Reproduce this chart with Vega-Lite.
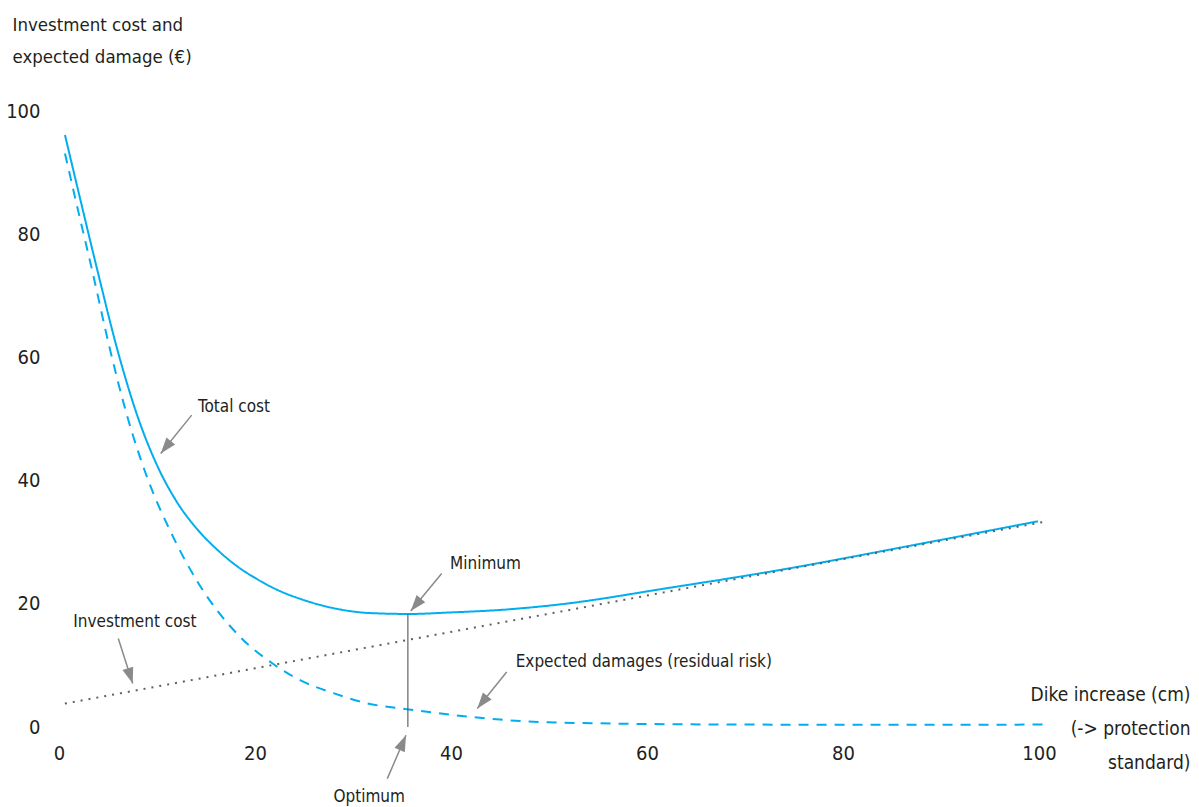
{
  "$schema": "https://vega.github.io/schema/vega-lite/v6.json",
  "width": 980,
  "height": 616,
  "autosize": {"type": "none"},
  "padding": {"left": 59, "top": 111, "right": 160, "bottom": 80},
  "background": "white",
  "config": {
    "view": {"stroke": null},
    "font": "DejaVu Sans Condensed, Roboto, sans-serif",
    "text": {"font": "DejaVu Sans Condensed, Roboto, sans-serif"}
  },
  "datasets": {
    "curves": [
      {"x": 0.61, "y": 96.1, "s": "total"},
      {"x": 2.0, "y": 86.8, "s": "total"},
      {"x": 4.0, "y": 73.6, "s": "total"},
      {"x": 6.0, "y": 61.0, "s": "total"},
      {"x": 8.0, "y": 50.5, "s": "total"},
      {"x": 10.0, "y": 42.5, "s": "total"},
      {"x": 12.0, "y": 36.6, "s": "total"},
      {"x": 14.0, "y": 32.3, "s": "total"},
      {"x": 16.0, "y": 29.0, "s": "total"},
      {"x": 18.0, "y": 26.3, "s": "total"},
      {"x": 20.0, "y": 24.2, "s": "total"},
      {"x": 22.5, "y": 22.1, "s": "total"},
      {"x": 25.0, "y": 20.6, "s": "total"},
      {"x": 28.3, "y": 19.2, "s": "total"},
      {"x": 31.7, "y": 18.5, "s": "total"},
      {"x": 35.8, "y": 18.35, "s": "total"},
      {"x": 40, "y": 18.6, "s": "total"},
      {"x": 45, "y": 19.0, "s": "total"},
      {"x": 51.1, "y": 19.9, "s": "total"},
      {"x": 62.3, "y": 22.6, "s": "total"},
      {"x": 73.6, "y": 25.5, "s": "total"},
      {"x": 87.1, "y": 29.5, "s": "total"},
      {"x": 99.9, "y": 33.4, "s": "total"},
      {"x": 0.61, "y": 93.1, "s": "damage"},
      {"x": 2.0, "y": 83.5, "s": "damage"},
      {"x": 3.4, "y": 74.0, "s": "damage"},
      {"x": 5.1, "y": 62.0, "s": "damage"},
      {"x": 6.9, "y": 50.8, "s": "damage"},
      {"x": 9.0, "y": 40.5, "s": "damage"},
      {"x": 11.3, "y": 32.0, "s": "damage"},
      {"x": 14.05, "y": 23.8, "s": "damage"},
      {"x": 18.5, "y": 14.6, "s": "damage"},
      {"x": 21.8, "y": 10.3, "s": "damage"},
      {"x": 24.6, "y": 7.6, "s": "damage"},
      {"x": 28.0, "y": 5.5, "s": "damage"},
      {"x": 31.4, "y": 3.85, "s": "damage"},
      {"x": 35.5, "y": 2.9, "s": "damage"},
      {"x": 41.6, "y": 1.7, "s": "damage"},
      {"x": 45, "y": 1.2, "s": "damage"},
      {"x": 49.1, "y": 0.8, "s": "damage"},
      {"x": 55, "y": 0.6, "s": "damage"},
      {"x": 62, "y": 0.45, "s": "damage"},
      {"x": 70, "y": 0.4, "s": "damage"},
      {"x": 80, "y": 0.35, "s": "damage"},
      {"x": 90, "y": 0.35, "s": "damage"},
      {"x": 100.5, "y": 0.4, "s": "damage"},
      {"x": 0.6, "y": 3.8, "s": "invest"},
      {"x": 100.5, "y": 33.3, "s": "invest"}
    ],
    "optimum": [{"x": 35.6, "y": 0, "y2": 18.3}],
    "notes": [
      {"text": "Total cost", "tx": 14.18, "ty": 51.97, "ax": 13.54, "ay": 50.63, "hx": 10.38, "hy": 44.4, "angle": 219},
      {"text": "Minimum", "tx": 39.9, "ty": 26.54, "ax": 39.05, "ay": 24.91, "hx": 35.89, "hy": 18.84, "angle": 219.7},
      {"text": "Investment cost", "tx": 1.46, "ty": 17.05, "ax": 6.05, "ay": 14.36, "hx": 7.52, "hy": 7.05, "angle": 162.3},
      {"text": "Expected damages (residual risk)", "tx": 46.6, "ty": 10.5, "ax": 45.68, "ay": 8.93, "hx": 42.68, "hy": 2.99, "angle": 218.8},
      {"text": "Optimum", "tx": 28.0, "ty": -11.37, "ax": 33.5, "ay": -8.38, "hx": 35.41, "hy": -1.35, "angle": 23.4}
    ]
  },
  "layer": [
    {
      "data": {"name": "curves"},
      "mark": {"type": "line", "interpolate": "monotone", "clip": false},
      "encoding": {
        "x": {
          "field": "x", "type": "quantitative",
          "scale": {"domain": [0, 100], "nice": false, "zero": false},
          "axis": {
            "values": [0, 20, 40, 60, 80, 100],
            "domain": false, "ticks": false, "tickSize": 0, "grid": false,
            "labelFontSize": 20, "labelColor": "#231f20", "labelPadding": 16,
            "labelFlush": false, "labelOverlap": false,
            "labelFont": "DejaVu Sans Condensed, Roboto, sans-serif",
            "title": ["Dike increase (cm)", "(-> protection", "standard)"],
            "titleFont": "DejaVu Sans Condensed, Roboto, sans-serif",
            "titleFontSize": 19, "titleFontWeight": "normal", "titleColor": "#231f20",
            "titleAlign": "right", "titleBaseline": "alphabetic",
            "titleX": 1131, "titleY": -27, "titleLineHeight": 34
          }
        },
        "y": {
          "field": "y", "type": "quantitative",
          "scale": {"domain": [0, 100], "nice": false, "zero": false},
          "axis": {
            "values": [0, 20, 40, 60, 80, 100],
            "domain": false, "ticks": false, "tickSize": 0, "grid": false,
            "labelFontSize": 20, "labelColor": "#231f20", "labelPadding": 19,
            "labelFont": "DejaVu Sans Condensed, Roboto, sans-serif",
            "labelOverlap": false, "labelFlush": false,
            "title": ["Investment cost and", "expected damage (€)"],
            "titleFont": "DejaVu Sans Condensed, Roboto, sans-serif",
            "titleFontSize": 18.5, "titleFontWeight": "normal", "titleColor": "#231f20",
            "titleAngle": 0, "titleAlign": "left", "titleBaseline": "alphabetic",
            "titleX": -47, "titleY": -81, "titleLineHeight": 32
          }
        },
        "order": {"field": "x", "type": "quantitative"},
        "detail": {"field": "s"},
        "color": {
          "field": "s", "type": "nominal", "legend": null,
          "scale": {"domain": ["total", "damage", "invest"], "range": ["#00aeef", "#00aeef", "#5f5f5f"]}
        },
        "strokeDash": {
          "field": "s", "type": "nominal", "legend": null,
          "scale": {"domain": ["total", "damage", "invest"], "range": [[1, 0], [10, 8], [2, 6]]}
        },
        "strokeWidth": {
          "field": "s", "type": "nominal", "legend": null,
          "scale": {"domain": ["total", "damage", "invest"], "range": [2, 2, 1.7]}
        }
      }
    },
    {
      "mark": {"type": "rule", "color": "#808080", "strokeWidth": 2.2, "clip": false},
      "encoding": {
        "x": {"datum": -0.9, "type": "quantitative"},
        "x2": {"datum": 100.8},
        "y": {"datum": 0, "type": "quantitative"}
      }
    },
    {
      "mark": {"type": "rule", "color": "#808080", "strokeWidth": 1.6, "clip": false},
      "encoding": {
        "x": {"datum": 0, "type": "quantitative"},
        "y": {"datum": -1.3, "type": "quantitative"},
        "y2": {"datum": 100}
      }
    },
    {
      "data": {"name": "optimum"},
      "mark": {"type": "rule", "color": "#555555", "strokeWidth": 1.1},
      "encoding": {
        "x": {"field": "x", "type": "quantitative"},
        "y": {"field": "y", "type": "quantitative"},
        "y2": {"field": "y2"}
      }
    },
    {
      "data": {"name": "notes"},
      "mark": {"type": "rule", "color": "#8a8a8a", "strokeWidth": 1.5, "clip": false},
      "encoding": {
        "x": {"field": "ax", "type": "quantitative"},
        "y": {"field": "ay", "type": "quantitative"},
        "x2": {"field": "hx"},
        "y2": {"field": "hy"}
      }
    },
    {
      "data": {"name": "notes"},
      "mark": {"type": "point", "shape": "M0,0L-0.7,2L0.7,2Z", "filled": true, "color": "#8a8a8a", "opacity": 1, "size": 256, "strokeWidth": 0, "clip": false},
      "encoding": {
        "x": {"field": "hx", "type": "quantitative"},
        "y": {"field": "hy", "type": "quantitative"},
        "angle": {"field": "angle", "type": "quantitative", "scale": null}
      }
    },
    {
      "data": {"name": "notes"},
      "mark": {"type": "text", "align": "left", "baseline": "middle", "fontSize": 17, "color": "#231f20", "clip": false},
      "encoding": {
        "x": {"field": "tx", "type": "quantitative"},
        "y": {"field": "ty", "type": "quantitative"},
        "text": {"field": "text"}
      }
    }
  ]
}
